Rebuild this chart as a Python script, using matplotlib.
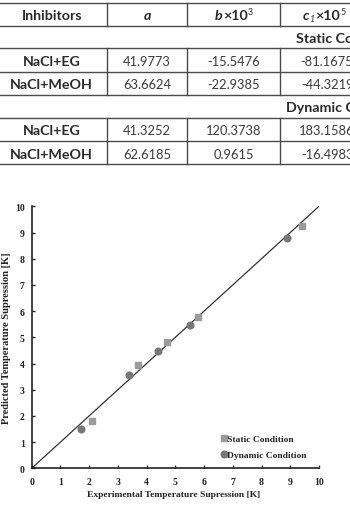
import matplotlib
matplotlib.use('Agg')
import matplotlib.pyplot as plt

# table values
inhibitors = ['NaCl+EG', 'NaCl+MeOH']
static_a = ['41.9773', '63.6624']
static_b = ['-15.5476', '-22.9385']
static_c = ['-81.1675', '-44.3219']
dynamic_a = ['41.3252', '62.6185']
dynamic_b = ['120.3738', '0.9615']
dynamic_c = ['183.1586', '-16.4983']

# scatter values
static_exp = [2.1, 3.7, 4.7, 5.8, 9.4]
static_pred = [1.82, 3.96, 4.81, 5.79, 9.26]
dynamic_exp = [1.7, 3.4, 4.4, 5.5, 8.9]
dynamic_pred = [1.50, 3.57, 4.48, 5.48, 8.78]
parity = [0, 10]

W, H = 350, 506
fig = plt.figure(figsize=(W/100, H/100), dpi=100)
renderer = fig.canvas.get_renderer()

# ---- table, drawn in pixel coordinates ----
tab = fig.add_axes([0, 0, 1, 1])
tab.set_xlim(0, W)
tab.set_ylim(H, 0)
tab.axis('off')

tfont = ['Lato', 'DejaVu Sans']
txtc = '#2a2a2a'
lc = '#4a4a4a'
bsize, rsize = 10.3, 9.3

hlines = [4, 26.7, 49.3, 72.7, 96, 119, 142.3, 165.3]
for y in hlines:
    tab.plot([0, W], [y, y], color=lc, lw=1.0)
vcols = [106.7, 187.3, 280]
for top, bot in [(4, 26.7), (49.3, 96), (119, 165.3)]:
    for x in vcols:
        tab.plot([x, x], [top, bot], color=lc, lw=1.0)


def run_text(xc, y, pieces):
    # pieces: (string, size, weight, style, dy) placed one after another, centred on xc
    arts = []
    for s, size, weight, style, dy in pieces:
        t = tab.text(0, y + dy, s, ha='left', va='baseline', fontsize=size,
                     fontweight=weight, style=style, family=tfont, color=txtc)
        arts.append(t)
    widths = [a.get_window_extent(renderer).width for a in arts]
    x = xc - sum(widths) / 2
    for a, w in zip(arts, widths):
        a.set_x(x)
        x += w + 0.3


cx = [51.7, 147, 233.5, 323.5]
hb = 20
run_text(cx[0], hb, [('Inhibitors', bsize, 'bold', 'normal', 0)])
run_text(cx[1], hb, [('a', bsize, 'bold', 'italic', 0)])
run_text(cx[2], hb, [('b', bsize, 'bold', 'italic', 0),
                     ('×10', bsize, 'bold', 'normal', 0),
                     ('3', 6.3, 'normal', 'normal', -5)])
run_text(cx[3], hb, [('c', bsize, 'bold', 'italic', 0),
                     ('1', 6.3, 'normal', 'italic', 2),
                     ('×10', bsize, 'bold', 'normal', 0),
                     ('5', 6.3, 'normal', 'normal', -5)])

tab.text(296, 42.5, 'Static Conditions', ha='left', va='baseline', fontsize=bsize,
         fontweight='bold', family=tfont, color=txtc)
tab.text(286, 112.2, 'Dynamic Conditions', ha='left', va='baseline', fontsize=bsize,
         fontweight='bold', family=tfont, color=txtc)


def table_rows(base, a, b, c):
    for i, name in enumerate(inhibitors):
        y = base + i * 23.3
        tab.text(cx[0], y, name, ha='center', va='baseline', fontsize=bsize,
                 fontweight='bold', family=tfont, color=txtc)
        for x, v in zip([147, 233.5, 327], [a[i], b[i], c[i]]):
            tab.text(x, y, v, ha='center', va='baseline', fontsize=rsize,
                     family=tfont, color='#3a3a3a')


table_rows(65.8, static_a, static_b, static_c)
table_rows(135.3, dynamic_a, dynamic_b, dynamic_c)

# ---- parity plot ----
x0, x1, y0, y1 = 31.7, 319, 207.3, 469.3
ax = fig.add_axes([x0/W, 1 - y1/H, (x1 - x0)/W, (y1 - y0)/H])
serif = 'Liberation Serif'

ax.plot(parity, parity, color='#333333', lw=0.9, zorder=1)
ax.plot(static_exp, static_pred, 's', ms=4.6, color='#9b9b9b',
        label='Static Condition', zorder=3)
ax.plot(dynamic_exp, dynamic_pred, 'o', ms=4.8, color='#777777',
        label='Dynamic Condition', zorder=3)

ax.set_xlim(0, 10)
ax.set_ylim(0, 10)
ax.set_xticks(range(0, 11))
ax.set_yticks(range(0, 11))
for s in ['top', 'right']:
    ax.spines[s].set_visible(False)
for s in ['left', 'bottom']:
    ax.spines[s].set_linewidth(1.2)
    ax.spines[s].set_color('#222222')
ax.tick_params(direction='in', length=2.5, width=1, color='#222222',
               labelsize=7, labelcolor='#222222')
ax.tick_params(axis='x', pad=6)
ax.tick_params(axis='y', pad=5)
for lab in ax.get_xticklabels() + ax.get_yticklabels():
    lab.set_fontfamily(serif)
    lab.set_fontweight('bold')

ax.set_xlabel('Experimental Temperature Supression [K]', fontsize=6.8,
              family=serif, fontweight='bold', color='#222222')
ax.xaxis.set_label_coords(0.495, -0.083)
ax.set_ylabel('Predicted Temperature Supression [K]', fontsize=7.6,
              family=serif, fontweight='bold', color='#222222')
ax.yaxis.set_label_coords(-0.072, 0.5)

leg = ax.legend(loc='center left', bbox_to_anchor=(0.645, 0.082),
                frameon=False, handlelength=0.5, handletextpad=0.1,
                labelspacing=0.75, borderpad=0,
                prop={'family': serif, 'weight': 'bold', 'size': 6.8})
for t in leg.get_texts():
    t.set_color('#222222')

fig.savefig('out.png', dpi=100, facecolor='white')
